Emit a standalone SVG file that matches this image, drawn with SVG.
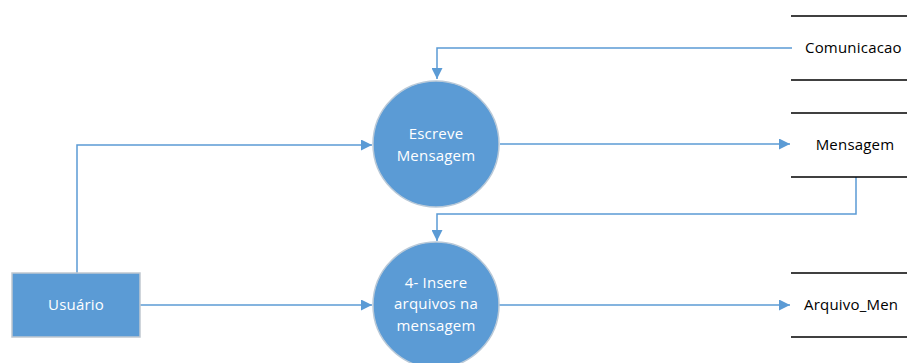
<svg xmlns="http://www.w3.org/2000/svg" width="907" height="363" viewBox="0 0 907 363">
<style>
.proc{fill:#5B9BD5;stroke:#B9C9D8;stroke-width:1.5}
.ent{fill:#5B9BD5;stroke:#C0C8D0;stroke-width:1.5}
.wt{fill:#FFFFFF;font-family:"Open Sans","Noto Sans",sans-serif;font-size:15px;letter-spacing:0.2px;text-anchor:middle}
.bt{fill:#000000;font-family:"Open Sans","Noto Sans",sans-serif;font-size:15px;letter-spacing:0.2px}
.store{stroke:#000;stroke-width:1.5}
.conn{fill:none;stroke:#5B9BD5;stroke-width:1.5}
</style>
<defs>
<marker id="arr" viewBox="0 0 10 10" refX="10" refY="5" markerWidth="11" markerHeight="11" markerUnits="userSpaceOnUse" orient="auto">
<path d="M0,0 L10,5 L0,10 z" fill="#5B9BD5"/>
</marker>
</defs>
<rect width="907" height="363" fill="#FFFFFF"/>
<g id="connectors">
<path class="conn" d="M77,273 V145 H372" marker-end="url(#arr)"/>
<path class="conn" d="M140,305 H372" marker-end="url(#arr)"/>
<path class="conn" d="M792,48 H437 V79" marker-end="url(#arr)"/>
<path class="conn" d="M500,144 H790" marker-end="url(#arr)"/>
<path class="conn" d="M856,177 V214 H437 V241" marker-end="url(#arr)"/>
<path class="conn" d="M499,305 H790" marker-end="url(#arr)"/>
</g>
<g id="escreve">
<circle class="proc" cx="436" cy="144" r="63"/>
<text class="wt" x="436" y="139">Escreve</text>
<text class="wt" x="436" y="161">Mensagem</text>
</g>
<g id="insere">
<circle class="proc" cx="436" cy="305" r="63"/>
<text class="wt" x="436" y="288">4- Insere</text>
<text class="wt" x="436" y="309">arquivos na</text>
<text class="wt" x="436" y="331">mensagem</text>
</g>
<g id="usuario">
<rect class="ent" x="12" y="273" width="128" height="64"/>
<text class="wt" x="76" y="310">Usuário</text>
</g>
<g id="comunicacao">
<line class="store" x1="791" y1="16" x2="907" y2="16"/>
<line class="store" x1="791" y1="80" x2="907" y2="80"/>
<text class="bt" x="805" y="53">Comunicacao</text>
</g>
<g id="mensagem">
<line class="store" x1="791" y1="113" x2="907" y2="113"/>
<line class="store" x1="791" y1="177" x2="907" y2="177"/>
<text class="bt" x="855" y="150" text-anchor="middle">Mensagem</text>
</g>
<g id="arquivo">
<line class="store" x1="791" y1="273" x2="907" y2="273"/>
<line class="store" x1="791" y1="337" x2="907" y2="337"/>
<text class="bt" x="804" y="310">Arquivo_Men</text>
</g>
</svg>
